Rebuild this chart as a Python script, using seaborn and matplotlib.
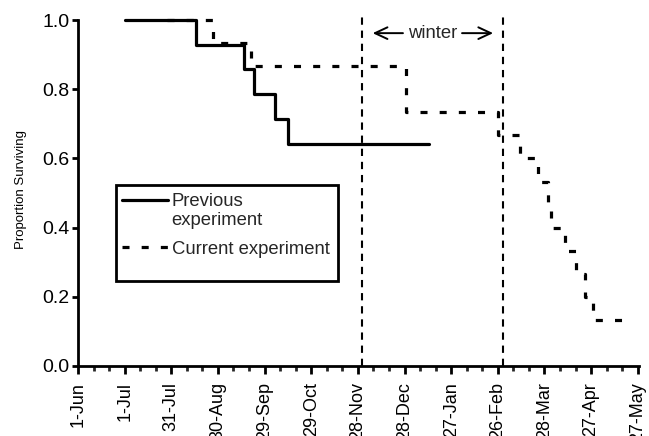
import numpy as np
import pandas as pd
import matplotlib
matplotlib.use("Agg")
import matplotlib.pyplot as plt
import seaborn as sns
from matplotlib.ticker import MultipleLocator, FixedLocator
from matplotlib.legend_handler import HandlerLine2D
from matplotlib.patches import Rectangle

# Day numbers are counted from 1 June
date_ticks = [0, 30, 60, 90, 120, 150, 180, 210, 240, 270, 300, 330, 360]
date_labels = ["1-Jun", "1-Jul", "31-Jul", "30-Aug", "29-Sep", "29-Oct", "28-Nov",
               "28-Dec", "27-Jan", "26-Feb", "28-Mar", "27-Apr", "27-May"]

prev_days = [30, 76, 107, 113, 127, 135, 226]
prev_surv = [1.0, 0.929, 0.857, 0.786, 0.714, 0.643, 0.643]

curr_days = [57, 87, 111, 211, 270, 284, 296, 302, 304, 313, 320, 326, 331, 357]
curr_surv = [1.0, 0.933, 0.867, 0.733, 0.667, 0.600, 0.533, 0.467, 0.400,
             0.333, 0.267, 0.200, 0.133, 0.133]

winter_bounds = [182.5, 273.5]

sns.set_theme(style="ticks")
plt.rcParams["font.family"] = ["Liberation Sans", "DejaVu Sans"]

fig = plt.figure(figsize=(6.49, 4.36), dpi=100)
ax = fig.add_axes([78 / 649, 1 - 366 / 436, 561.3 / 649, 346 / 436])

prev = pd.DataFrame({"day": prev_days, "surv": prev_surv})
curr = pd.DataFrame({"day": curr_days, "surv": curr_surv})

sns.lineplot(data=prev, x="day", y="surv", ax=ax, drawstyle="steps-post",
             color="black", lw=2.3, clip_on=False, label="Previous\nexperiment", zorder=4)
sns.lineplot(data=curr, x="day", y="surv", ax=ax, drawstyle="steps-post",
             color="black", lw=2.3, linestyle=(0, (2.2, 3.8)), clip_on=False,
             label="Current experiment", zorder=4)

# winter period boundaries
for d in winter_bounds:
    ax.plot([d, d], [0, 1.02], color="black", lw=1.5, linestyle=(0, (3.5, 2.8)),
            clip_on=False, zorder=3)

mid = sum(winter_bounds) / 2
ax.text(mid, 0.962, "winter", ha="center", va="center", fontsize=13.3)
arrow = dict(arrowstyle="->,head_length=0.75,head_width=0.35", lw=1.4, color="black",
             shrinkA=0, shrinkB=0)
ax.annotate("", xy=(winter_bounds[0] + 7, 0.962), xytext=(winter_bounds[0] + 26.5, 0.962),
            arrowprops=arrow)
ax.annotate("", xy=(winter_bounds[1] - 6.5, 0.962), xytext=(winter_bounds[1] - 26.5, 0.962),
            arrowprops=arrow)

ax.set_xlim(0, 361)
ax.set_ylim(0, 1.0)
ax.xaxis.set_major_locator(FixedLocator(date_ticks))
ax.set_xticklabels(date_labels, rotation=90, ha="center", va="top")
ax.xaxis.set_minor_locator(MultipleLocator(10))
ax.set_yticks([0, 0.2, 0.4, 0.6, 0.8, 1.0])
ax.set_yticklabels(["0.0", "0.2", "0.4", "0.6", "0.8", "1.0"])

for side in ["top", "right"]:
    ax.spines[side].set_visible(False)
for side in ["left", "bottom"]:
    ax.spines[side].set_linewidth(2.0)
    ax.spines[side].set_color("black")

ax.tick_params(axis="x", which="major", direction="out", length=5.5, width=2.0,
               pad=6, labelsize=13, colors="black")
ax.tick_params(axis="x", which="minor", direction="out", length=3.5, width=2.0)
ax.tick_params(axis="y", which="major", direction="out", length=4.5, width=2.0,
               pad=1.5, labelsize=14, colors="black")

ax.set_xlabel("")
ax.set_ylabel("Proportion Surviving", fontsize=9.5, color="black")
ax.yaxis.set_label_coords(-0.0914, 0.51)


class RaisedLine(HandlerLine2D):
    def __init__(self, dy, **kw):
        super().__init__(**kw)
        self.dy = dy

    def create_artists(self, legend, orig_handle, xdescent, ydescent, width,
                       height, fontsize, trans):
        arts = super().create_artists(legend, orig_handle, xdescent, ydescent,
                                      width, height, fontsize, trans)
        for a in arts:
            a.set_ydata(np.asarray(a.get_ydata()) + self.dy)
        return arts


handles, labels = ax.get_legend_handles_labels()
box = Rectangle((0.0677, 0.2457), 0.463 - 0.0677, 0.523 - 0.2457, transform=ax.transAxes,
                facecolor="white", edgecolor="black", lw=2.0, zorder=5)
ax.add_patch(box)
leg = ax.legend(handles, labels, loc="upper left", bbox_to_anchor=(0.0779, 0.50),
                frameon=False, fontsize=13.3, handlelength=2.5, handletextpad=0.2,
                borderpad=0, borderaxespad=0, labelspacing=0.65,
                handler_map={handles[0]: RaisedLine(8.0)})
leg.set_zorder(6)
for t in leg.get_texts():
    t.set_linespacing(1.12)

fig.savefig("out.png", dpi=100)
